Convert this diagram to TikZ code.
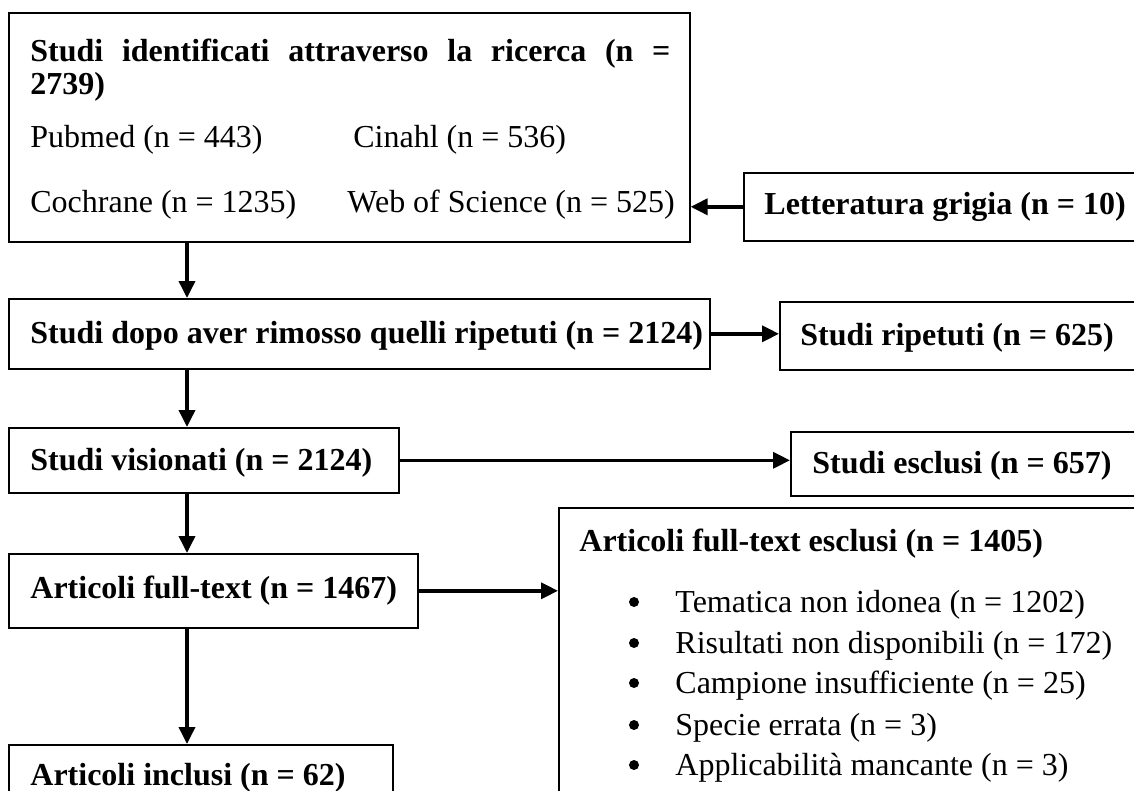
\documentclass[tikz,border=0pt]{standalone}
\usepackage{fontspec}
\setmainfont{Liberation Serif}
\usetikzlibrary{arrows.meta}
\begin{document}
\begin{tikzpicture}[x=0.5pt,y=-0.5pt,
  box/.style={draw, line width=0.8pt, anchor=north west, inner sep=0pt},
  txt/.style={anchor=base west, inner sep=0pt, font=\fontsize{16}{18}\selectfont},
  btxt/.style={txt, font=\fontsize{16}{18}\selectfont\bfseries},
  bul/.style={circle, fill, inner sep=0pt, minimum size=5pt},
  arr/.style={line width=1.8pt, -{Triangle[length=8.5pt,width=8pt]}}]
\useasboundingbox (0,0) rectangle (1134,791);
\clip (0,0) rectangle (1134,791);
% boxes
\node[box, minimum width=340.5pt, minimum height=114.5pt] (ident) at (8,12) {};
\node[box, minimum width=198.5pt, minimum height=34pt] (grey) at (743,172) {};
\node[box, minimum width=350.5pt, minimum height=35pt] (dup) at (8,298) {};
\node[box, minimum width=180.5pt, minimum height=34pt] (rep) at (779,301) {};
\node[box, minimum width=195pt, minimum height=32.5pt] (scr) at (8,427) {};
\node[box, minimum width=175pt, minimum height=32pt] (excl) at (790,431) {};
\node[box, minimum width=204.5pt, minimum height=37pt] (ft) at (8,553) {};
\node[box, minimum width=291pt, minimum height=151.5pt] (ftex) at (558,507) {};
\node[box, minimum width=192pt, minimum height=31pt] (inc) at (8,744) {};
% texts
\node[btxt] (t1) at (30,62) {\makebox[320pt][s]{Studi identificati attraverso la ricerca (n =}};
\node[btxt] (t2) at (30,95) {2739)};
\node[txt] (pub) at (30,148) {Pubmed (n = 443)};
\node[txt] (cin) at (353,148) {Cinahl (n = 536)};
\node[txt] (coc) at (30,213) {Cochrane (n = 1235)};
\node[txt] (wos) at (347,213) {Web of Science (n = 525)};
\node[btxt] (tg) at (764,214) {Letteratura grigia (n = 10)};
\node[btxt] (td) at (30,343) {Studi dopo aver rimosso quelli ripetuti (n = 2124)};
\node[btxt] (tr) at (800,345) {Studi ripetuti (n = 625)};
\node[btxt] (ts) at (30,470) {Studi visionati (n = 2124)};
\node[btxt] (te) at (812,473) {Studi esclusi (n = 657)};
\node[btxt] (tf) at (30,598) {Articoli full-text (n = 1467)};
\node[btxt] (tx) at (579,551) {Articoli full-text esclusi (n = 1405)};
\node[btxt] (ti) at (30,785) {Articoli inclusi (n = 62)};
% bullet list
\foreach \yy/\lab [count=\i] in {612/Tematica non idonea (n = 1202),
    653/Risultati non disponibili (n = 172),
    693/Campione insufficiente (n = 25),
    735/Specie errata (n = 3),
    775/Applicabilità mancante (n = 3)}{
  \node[bul] (b\i) at (634,\yy-10) {};
  \node[txt] (l\i) at (675,\yy) {\lab};
}
% connectors
\draw[arr] (grey.west) -- (grey.west -| ident.east);
\draw[arr] ([xshift=89.5pt]ident.south west) -- ([xshift=89.5pt]dup.north west);
\draw[arr] ([xshift=89.5pt]dup.south west) -- ([xshift=89.5pt]scr.north west);
\draw[arr] ([xshift=89.5pt]scr.south west) -- ([xshift=89.5pt]ft.north west);
\draw[arr] ([xshift=89.5pt]ft.south west) -- ([xshift=89.5pt]inc.north west);
\draw[arr] (dup.east) -- (dup.east -| rep.west);
\draw[arr] (scr.east) -- (scr.east -| excl.west);
\draw[arr] (ft.east) -- (ft.east -| ftex.west);
\end{tikzpicture}
\end{document}
